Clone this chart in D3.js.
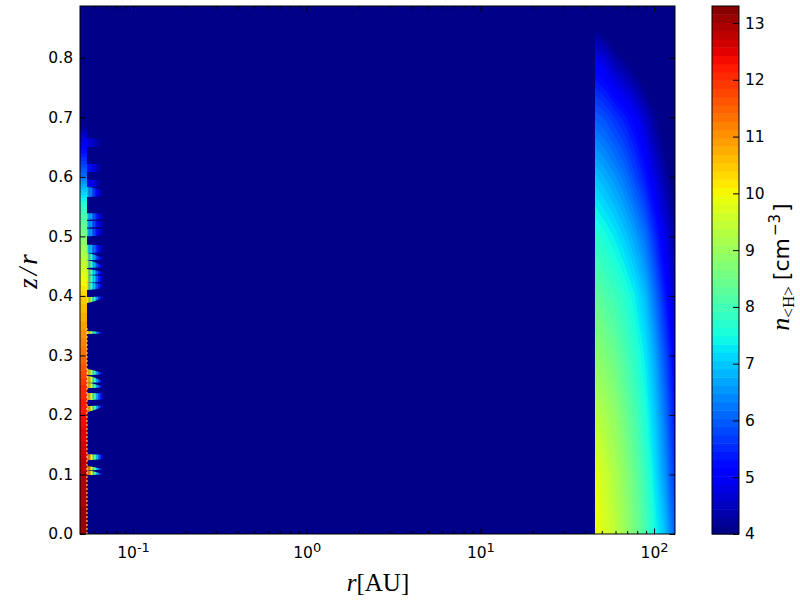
<!DOCTYPE html>
<html lang="en">
<head>
<meta charset="UTF-8">
<title>density map</title>
<script src="https://cdnjs.cloudflare.com/ajax/libs/d3/7.8.5/d3.min.js"></script>
<style>
    html, body { margin: 0; padding: 0; background: #fff; }
    text { font-family: "DejaVu Sans", sans-serif; fill: #000; }
    .domain { display: none; }
    .tick line { stroke: #000; stroke-width: 1; }
    .tick text { font-size: 15.5px; fill: #000; }
</style>
</head>
<body>
<div id="wrapper"></div>
<script>
// axis values
const xTicks = [0.1, 1, 10, 100]
const xExponents = ['-1', '0', '1', '2']
const xMinorTicks = [0.06, 0.07, 0.08, 0.09, 0.2, 0.3, 0.4, 0.5, 0.6, 0.7, 0.8, 0.9,
    2, 3, 4, 5, 6, 7, 8, 9, 20, 30, 40, 50, 60, 70, 80, 90]
const yTicks = [0, 0.1, 0.2, 0.3, 0.4, 0.5, 0.6, 0.7, 0.8]
const barTicks = [4, 5, 6, 7, 8, 9, 10, 11, 12, 13]
const xLimits = [0.0495, 132]
const yLimits = [0, 0.887]
const barLimits = [4, 13.3]

// outer disk, log10(n) on an r / (z/r) grid
const outerR = [45.7, 52, 59.6, 68, 77.6, 88.8, 101, 116, 132]
const outerZ = [0, 0.1, 0.2, 0.3, 0.4, 0.5, 0.6, 0.7, 0.8, 0.85, 0.887]
const outerN = [
    [10.0, 9.7, 9.4, 9.0, 8.6, 8.1, 7.5, 6.9, 6.0],
    [9.85, 9.55, 9.2, 8.85, 8.4, 7.9, 7.25, 6.5, 5.6],
    [9.4, 9.15, 8.9, 8.5, 8.1, 7.6, 7.0, 6.2, 5.3],
    [8.9, 8.7, 8.45, 8.1, 7.75, 7.3, 6.7, 5.85, 5.0],
    [8.35, 8.15, 7.95, 7.7, 7.35, 6.9, 6.2, 5.35, 4.6],
    [7.75, 7.55, 7.3, 7.0, 6.65, 6.2, 5.55, 4.85, 4.3],
    [6.95, 6.75, 6.5, 6.2, 5.8, 5.35, 4.8, 4.3, 3.95],
    [6.0, 5.85, 5.6, 5.35, 5.05, 4.6, 4.2, 3.85, 3.6],
    [4.9, 4.7, 4.3, 4.05, 3.8, 3.55, 3.4, 3.4, 3.4],
    [4.05, 3.9, 3.6, 3.4, 3.4, 3.4, 3.4, 3.4, 3.4],
    [3.7, 3.5, 3.4, 3.4, 3.4, 3.4, 3.4, 3.4, 3.4]
]

// inner wall strip
const stripR = [0.0495, 0.0543]
const stripZ = [0, 0.1, 0.2, 0.25, 0.29, 0.34, 0.4, 0.445, 0.5, 0.54, 0.58, 0.6, 0.64, 0.67, 0.69]
const stripN = [13.1, 12.9, 12.3, 12.0, 11.5, 11.0, 10.4, 9.6, 8.7, 8.0, 6.9, 6.2, 5.3, 4.6, 3.9]

// spikes next to the wall: base zLow, base zHigh, tip zLow, tip zHigh, peak n
const spikes = [
    [0.099, 0.107, 0.100, 0.101, 11.4],
    [0.107, 0.114, 0.108, 0.109, 11.4],
    [0.124, 0.134, 0.126, 0.133, 11.4],
    [0.205, 0.215, 0.214, 0.216, 11.0],
    [0.225, 0.237, 0.226, 0.236, 10.8],
    [0.245, 0.254, 0.246, 0.248, 10.8],
    [0.254, 0.266, 0.255, 0.257, 10.8],
    [0.267, 0.277, 0.268, 0.270, 10.6],
    [0.336, 0.341, 0.337, 0.339, 10.4],
    [0.388, 0.398, 0.397, 0.399, 10.2],
    [0.410, 0.422, 0.413, 0.420, 8.9],
    [0.422, 0.435, 0.424, 0.433, 9.1],
    [0.435, 0.445, 0.437, 0.440, 9.2],
    [0.447, 0.460, 0.448, 0.451, 8.8],
    [0.460, 0.472, 0.461, 0.464, 8.6],
    [0.472, 0.486, 0.473, 0.485, 7.5],
    [0.500, 0.513, 0.502, 0.512, 7.1],
    [0.515, 0.526, 0.516, 0.525, 7.1],
    [0.528, 0.539, 0.529, 0.538, 7.3],
    [0.566, 0.583, 0.568, 0.578, 6.9],
    [0.583, 0.595, 0.584, 0.594, 5.3],
    [0.608, 0.622, 0.609, 0.621, 5.4],
    [0.650, 0.665, 0.651, 0.664, 4.9]
]
const spikeR = [0.0543, 0.0672]
const spikeSteps = [0, 0.08, 0.16, 0.24, 0.32, 0.4, 0.5, 0.6, 0.7, 0.8, 0.9, 1]
const spikeFade = [1, 0.95, 0.88, 0.8, 0.7, 0.6, 0.5, 0.4, 0.3, 0.2, 0.1, 0]
const spikeTaper = [0, 0.05, 0.1, 0.16, 0.22, 0.3, 0.4, 0.52, 0.65, 0.78, 0.9, 1]

// jet colormap
const jetStops = [0, 0.11, 0.125, 0.34, 0.35, 0.375, 0.64, 0.65, 0.66, 0.89, 0.91, 1]
const jetColors = ['#000080', '#0000ff', '#0000ff', '#00dbff', '#00e5f7', '#14ffe2',
    '#eeff08', '#f7f500', '#ffec00', '#ff1300', '#e80000', '#800000']

function drawChart() {
    const dimensions = {
        width: 800,
        height: 600,
        plot: { left: 80, right: 675, top: 6, bottom: 534 },
        bar: { left: 712, right: 739 }
    }
    const plot = dimensions.plot
    const bar = dimensions.bar

    const svg = d3.select('#wrapper').append('svg')
        .attr('width', dimensions.width)
        .attr('height', dimensions.height)
        .style('display', 'block')

    // scales
    const xScale = d3.scaleLog().domain(xLimits).range([plot.left, plot.right])
    const yScale = d3.scaleLinear().domain(yLimits).range([plot.bottom, plot.top])
    const barScale = d3.scaleLinear().domain(barLimits).range([plot.bottom, plot.top])
    const jet = d3.scaleLinear().domain(jetStops).range(jetColors).interpolate(d3.interpolateRgb)

    // contour levels
    const levelCount = 64
    const levelStep = (barLimits[1] - barLimits[0]) / levelCount
    const levels = d3.range(levelCount).map(i => barLimits[0] + i * levelStep)
    const levelColor = n => {
        const i = Math.max(0, Math.min(levelCount - 1, Math.floor((n - barLimits[0]) / levelStep)))
        return jet((i + 0.5) / levelCount)
    }

    const defs = svg.append('defs')
    defs.append('clipPath').attr('id', 'plot-clip').append('rect')
        .attr('x', plot.left).attr('y', plot.top)
        .attr('width', plot.right - plot.left).attr('height', plot.bottom - plot.top)

    const field = svg.append('g').attr('clip-path', 'url(#plot-clip)')

    field.append('rect')
        .attr('x', plot.left).attr('y', plot.top)
        .attr('width', plot.right - plot.left).attr('height', plot.bottom - plot.top)
        .attr('fill', levelColor(barLimits[0]))

    // filled contours of a matrix, positions go grid index -> data -> pixel
    function drawField(rValues, zValues, rows) {
        const nx = rValues.length
        const ny = zValues.length
        const values = rows.flat()
        const xIndex = d3.scaleLinear()
            .domain(rValues.map((d, i) => i + 0.5))
            .range(rValues.map(d => Math.log10(d)))
            .clamp(true)
        const zIndex = d3.scaleLinear()
            .domain(zValues.map((d, i) => i + 0.5))
            .range(zValues)
            .clamp(true)
        const contours = d3.contours().size([nx, ny]).thresholds(levels)(values)
        const project = d3.geoTransform({
            point(x, y) {
                this.stream.point(xScale(Math.pow(10, xIndex(x))), yScale(zIndex(y)))
            }
        })
        const path = d3.geoPath(project)
        field.append('g').selectAll('path')
            .data(contours.filter(c => c.coordinates.length))
            .join('path')
            .attr('d', path)
            .attr('fill', d => levelColor(d.value + levelStep / 2))
    }

    drawField(outerR, outerZ, outerN)

    // spikes
    const rStep = d3.scaleLinear().domain([0, 1]).range(spikeR.map(d => Math.log10(d)))
    const spikeLine = d3.line().x(d => xScale(Math.pow(10, d[0]))).y(d => yScale(d[1]))
    spikes.forEach(([z0, z1, t0, t1, peak]) => {
        const low = d3.scaleLinear().domain([0, 1]).range([z0, t0])
        const high = d3.scaleLinear().domain([0, 1]).range([z1, t1])
        spikeSteps.slice(0, -1).forEach((s, i) => {
            const e = spikeSteps[i + 1]
            const ta = spikeTaper[i]
            const tb = spikeTaper[i + 1]
            const n = barLimits[0] + (peak - barLimits[0]) * spikeFade[i]
            field.append('path')
                .attr('d', spikeLine([
                    [rStep(s), low(ta)], [rStep(e), low(tb)],
                    [rStep(e), high(tb)], [rStep(s), high(ta)]
                ]) + 'Z')
                .attr('fill', levelColor(n))
        })
    })

    drawField(stripR, stripZ, stripN.map(n => [n, n]))

    // dotted rim of the wall
    field.append('line')
        .attr('x1', xScale(spikeR[0])).attr('x2', xScale(spikeR[0]))
        .attr('y1', yScale(0)).attr('y2', yScale(0.35))
        .attr('stroke', '#f4f78a').attr('stroke-width', 1)
        .attr('stroke-dasharray', '2 2')

    // frame and axes
    svg.append('rect')
        .attr('x', plot.left).attr('y', plot.top)
        .attr('width', plot.right - plot.left).attr('height', plot.bottom - plot.top)
        .attr('fill', 'none').attr('stroke', '#000').attr('stroke-width', 1)

    const bottomAxis = svg.append('g')
        .attr('transform', `translate(0,${plot.bottom})`)
        .call(d3.axisBottom(xScale).tickValues(xTicks).tickSizeInner(-5.5).tickSizeOuter(0).tickPadding(13).tickFormat(() => '10'))
    bottomAxis.selectAll('.tick text').append('tspan')
        .attr('dy', '-0.45em')
        .style('font-size', '13px')
        .text((d, i) => xExponents[i])
    svg.append('g').attr('transform', `translate(0,${plot.bottom})`)
        .call(d3.axisBottom(xScale).tickValues(xMinorTicks).tickSizeInner(-3).tickSizeOuter(0).tickFormat(''))
    svg.append('g').attr('transform', `translate(0,${plot.top})`)
        .call(d3.axisTop(xScale).tickValues(xTicks).tickSizeInner(-5.5).tickSizeOuter(0).tickFormat(''))
    svg.append('g').attr('transform', `translate(0,${plot.top})`)
        .call(d3.axisTop(xScale).tickValues(xMinorTicks).tickSizeInner(-3).tickSizeOuter(0).tickFormat(''))
    svg.append('g').attr('transform', `translate(${plot.left},0)`)
        .call(d3.axisLeft(yScale).tickValues(yTicks).tickSizeInner(-5.5).tickSizeOuter(0).tickPadding(7).tickFormat(d3.format('.1f')))
    svg.append('g').attr('transform', `translate(${plot.right},0)`)
        .call(d3.axisRight(yScale).tickValues(yTicks).tickSizeInner(-5.5).tickSizeOuter(0).tickFormat(''))

    // colorbar
    svg.append('g').selectAll('rect')
        .data(levels)
        .join('rect')
        .attr('x', bar.left)
        .attr('width', bar.right - bar.left)
        .attr('y', d => barScale(d + levelStep))
        .attr('height', d => barScale(d) - barScale(d + levelStep) + 0.5)
        .attr('fill', d => levelColor(d + levelStep / 2))
    svg.append('rect')
        .attr('x', bar.left).attr('y', plot.top)
        .attr('width', bar.right - bar.left).attr('height', plot.bottom - plot.top)
        .attr('fill', 'none').attr('stroke', '#000').attr('stroke-width', 1)
    svg.append('g').attr('transform', `translate(${bar.right},0)`)
        .call(d3.axisRight(barScale).tickValues(barTicks).tickSizeInner(-6).tickSizeOuter(0).tickPadding(6).tickFormat(d3.format('d')))

    // labels
    const serif = '"Liberation Serif", serif'
    const xLabel = svg.append('text')
        .attr('x', 378).attr('y', 591)
        .attr('text-anchor', 'middle')
        .style('font-family', serif).style('font-size', '25px')
    xLabel.append('tspan').style('font-style', 'italic').text('r')
    xLabel.append('tspan').text('[AU]')

    svg.append('text')
        .attr('transform', 'translate(37,270) rotate(-90)')
        .attr('text-anchor', 'middle')
        .style('font-family', serif).style('font-size', '27px').style('font-style', 'italic')
        .style('letter-spacing', '3px')
        .text('z/r')

    const barLabel = svg.append('text')
        .attr('transform', 'translate(789,267) rotate(-90)')
        .attr('text-anchor', 'middle')
        .style('font-size', '22px')
    barLabel.append('tspan')
        .style('font-family', serif).style('font-style', 'italic').style('font-size', '26px')
        .text('n')
    barLabel.append('tspan')
        .attr('dy', '5')
        .style('font-family', serif).style('font-size', '17px')
        .text('<H>')
    barLabel.append('tspan')
        .attr('dy', '-5')
        .attr('dx', '6')
        .text('[cm')
    barLabel.append('tspan')
        .attr('dy', '-9')
        .attr('dx', '2')
        .style('font-size', '15px')
        .text('−3')
    barLabel.append('tspan')
        .attr('dy', '9')
        .attr('dx', '2')
        .text(']')
}

drawChart()
</script>
</body>
</html>
